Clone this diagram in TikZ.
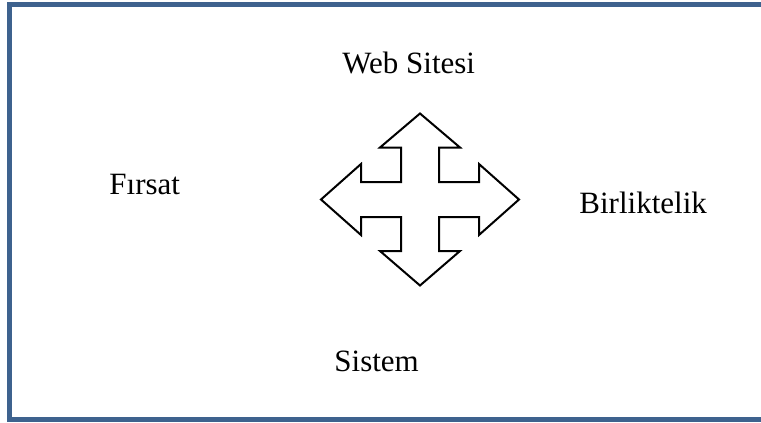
\documentclass[tikz,border=0pt]{standalone}
\usepackage{fontspec}
\setmainfont{Liberation Serif}
\usepackage{tikz}
\usetikzlibrary{positioning, calc}
\definecolor{frameblue}     {RGB}{ 62,  98,  142}

\begin{document}
\begin{tikzpicture}[x=0.5pt,y=-0.5pt,
		lbl/.style={anchor=base west,inner sep=0pt,font=\fontsize{15.5}{18}\selectfont}]
	\useasboundingbox (0,0) rectangle (761,423);
	\draw[frameblue,line width=2.5pt] (780,4)--(9.5,4)--(9.5,419.5)--(780,419.5);
	% four-way arrow
	\draw[line width=1pt,line join=miter] (420,113.5)--(460,147.5)--(439,147.5)--(439,182)--(479,182)--(479,164)--(519,199.5)
		--(479,235)--(479,217)--(439,217)--(439,251)--(460,251)--(420,285.5)--(380,251)--(401,251)--(401,217)
		--(361,217)--(361,235)--(321,199.5)--(361,164)--(361,182)--(401,182)--(401,147.5)--(380,147.5)--cycle;
	\node[lbl] (web) at (342,73.5) {Web Sitesi};
	\node[lbl] (firsat) at (109,194) {Fırsat};
	\node[lbl] (birlik) at (579,213.5) {Birliktelik};
	\node[lbl] (sistem) at (334,371.5) {Sistem};
\end{tikzpicture}
\end{document}
